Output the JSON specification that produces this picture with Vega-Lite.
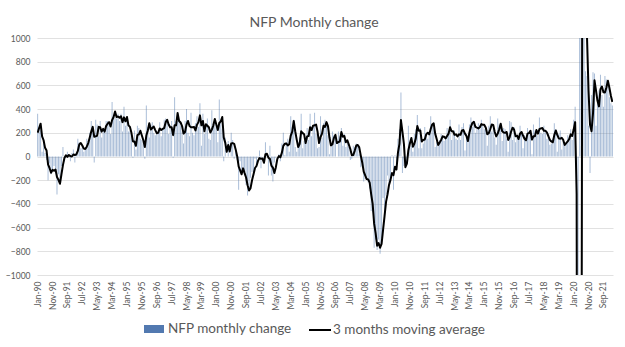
{
"$schema":"https://vega.github.io/schema/vega-lite/v6.json",
"width":576,"height":237,
"autosize":{"type":"none"},
"padding":{"left":37,"top":38,"right":12,"bottom":72},
"background":"white",
"title":{"text":"NFP Monthly change","font":"Lato","fontSize":14,"fontWeight":"normal","color":"#595959","offset":4,"dx":-11},
"config":{"view":{"stroke":null},"font":"Lato"},
"data":{"values":[
{"m":"Jan-90","v":360,"a":200},{"m":"Feb-90","v":250,"a":240},{"m":"Mar-90","v":220,"a":277},{"m":"Apr-90","v":40,"a":170},{"m":"May-90","v":150,"a":137},{"m":"Jun-90","v":30,"a":73},{"m":"Jul-90","v":-30,"a":50},{"m":"Aug-90","v":-200,"a":-67},{"m":"Sep-90","v":-60,"a":-97},{"m":"Oct-90","v":-150,"a":-137},{"m":"Nov-90","v":-130,"a":-113},{"m":"Dec-90","v":-80,"a":-120},
{"m":"Jan-91","v":-120,"a":-110},{"m":"Feb-91","v":-320,"a":-173},{"m":"Mar-91","v":-150,"a":-197},{"m":"Apr-91","v":-220,"a":-230},{"m":"May-91","v":-80,"a":-150},{"m":"Jun-91","v":80,"a":-73},{"m":"Jul-91","v":-40,"a":-13},{"m":"Aug-91","v":-10,"a":10},{"m":"Sep-91","v":40,"a":-3},{"m":"Oct-91","v":10,"a":13},{"m":"Nov-91","v":-40,"a":3},{"m":"Dec-91","v":30,"a":0},
{"m":"Jan-92","v":60,"a":17},{"m":"Feb-92","v":-50,"a":13},{"m":"Mar-92","v":40,"a":17},{"m":"Apr-92","v":150,"a":47},{"m":"May-92","v":120,"a":103},{"m":"Jun-92","v":70,"a":113},{"m":"Jul-92","v":90,"a":93},{"m":"Aug-92","v":40,"a":67},{"m":"Sep-92","v":60,"a":63},{"m":"Oct-92","v":150,"a":83},{"m":"Nov-92","v":130,"a":113},{"m":"Dec-92","v":200,"a":160},
{"m":"Jan-93","v":300,"a":210},{"m":"Feb-93","v":250,"a":250},{"m":"Mar-93","v":-50,"a":167},{"m":"Apr-93","v":310,"a":170},{"m":"May-93","v":270,"a":177},{"m":"Jun-93","v":170,"a":250},{"m":"Jul-93","v":300,"a":247},{"m":"Aug-93","v":160,"a":210},{"m":"Sep-93","v":240,"a":233},{"m":"Oct-93","v":230,"a":210},{"m":"Nov-93","v":300,"a":257},{"m":"Dec-93","v":300,"a":277},
{"m":"Jan-94","v":270,"a":290},{"m":"Feb-94","v":190,"a":253},{"m":"Mar-94","v":460,"a":307},{"m":"Apr-94","v":350,"a":333},{"m":"May-94","v":330,"a":380},{"m":"Jun-94","v":320,"a":333},{"m":"Jul-94","v":360,"a":337},{"m":"Aug-94","v":300,"a":327},{"m":"Sep-94","v":360,"a":340},{"m":"Oct-94","v":210,"a":290},{"m":"Nov-94","v":420,"a":330},{"m":"Dec-94","v":260,"a":297},
{"m":"Jan-95","v":320,"a":333},{"m":"Feb-95","v":210,"a":263},{"m":"Mar-95","v":220,"a":250},{"m":"Apr-95","v":170,"a":200},{"m":"May-95","v":-10,"a":127},{"m":"Jun-95","v":220,"a":127},{"m":"Jul-95","v":60,"a":90},{"m":"Aug-95","v":260,"a":180},{"m":"Sep-95","v":240,"a":187},{"m":"Oct-95","v":150,"a":217},{"m":"Nov-95","v":140,"a":177},{"m":"Dec-95","v":120,"a":137},
{"m":"Jan-96","v":-20,"a":80},{"m":"Feb-96","v":430,"a":177},{"m":"Mar-96","v":250,"a":220},{"m":"Apr-96","v":160,"a":280},{"m":"May-96","v":270,"a":227},{"m":"Jun-96","v":290,"a":240},{"m":"Jul-96","v":200,"a":253},{"m":"Aug-96","v":180,"a":223},{"m":"Sep-96","v":210,"a":197},{"m":"Oct-96","v":210,"a":200},{"m":"Nov-96","v":290,"a":237},{"m":"Dec-96","v":170,"a":223},
{"m":"Jan-97","v":240,"a":233},{"m":"Feb-97","v":310,"a":240},{"m":"Mar-97","v":320,"a":290},{"m":"Apr-97","v":300,"a":310},{"m":"May-97","v":190,"a":270},{"m":"Jun-97","v":250,"a":247},{"m":"Jul-97","v":300,"a":247},{"m":"Aug-97","v":-10,"a":180},{"m":"Sep-97","v":500,"a":263},{"m":"Oct-97","v":300,"a":263},{"m":"Nov-97","v":300,"a":367},{"m":"Dec-97","v":300,"a":300},
{"m":"Jan-98","v":260,"a":287},{"m":"Feb-98","v":210,"a":257},{"m":"Mar-98","v":110,"a":193},{"m":"Apr-98","v":300,"a":207},{"m":"May-98","v":400,"a":270},{"m":"Jun-98","v":200,"a":300},{"m":"Jul-98","v":170,"a":257},{"m":"Aug-98","v":370,"a":247},{"m":"Sep-98","v":200,"a":247},{"m":"Oct-98","v":180,"a":250},{"m":"Nov-98","v":280,"a":220},{"m":"Dec-98","v":340,"a":267},
{"m":"Jan-99","v":250,"a":290},{"m":"Feb-99","v":450,"a":347},{"m":"Mar-99","v":90,"a":263},{"m":"Apr-99","v":360,"a":300},{"m":"May-99","v":190,"a":213},{"m":"Jun-99","v":270,"a":273},{"m":"Jul-99","v":320,"a":260},{"m":"Aug-99","v":150,"a":247},{"m":"Sep-99","v":140,"a":203},{"m":"Oct-99","v":390,"a":227},{"m":"Nov-99","v":260,"a":263},{"m":"Dec-99","v":300,"a":317},
{"m":"Jan-00","v":250,"a":270},{"m":"Feb-00","v":120,"a":223},{"m":"Mar-00","v":480,"a":283},{"m":"Apr-00","v":290,"a":297},{"m":"May-00","v":230,"a":333},{"m":"Jun-00","v":-40,"a":160},{"m":"Jul-00","v":160,"a":117},{"m":"Aug-00","v":0,"a":40},{"m":"Sep-00","v":130,"a":97},{"m":"Oct-00","v":0,"a":43},{"m":"Nov-00","v":200,"a":110},{"m":"Dec-00","v":140,"a":113},
{"m":"Jan-01","v":-20,"a":107},{"m":"Feb-01","v":60,"a":60},{"m":"Mar-01","v":-30,"a":3},{"m":"Apr-01","v":-280,"a":-83},{"m":"May-01","v":-40,"a":-117},{"m":"Jun-01","v":-130,"a":-150},{"m":"Jul-01","v":-130,"a":-100},{"m":"Aug-01","v":-160,"a":-140},{"m":"Sep-01","v":-240,"a":-177},{"m":"Oct-01","v":-330,"a":-243},{"m":"Nov-01","v":-290,"a":-287},{"m":"Dec-01","v":-180,"a":-267},
{"m":"Jan-02","v":-130,"a":-200},{"m":"Feb-02","v":-140,"a":-150},{"m":"Mar-02","v":-20,"a":-97},{"m":"Apr-02","v":-80,"a":-80},{"m":"May-02","v":-10,"a":-37},{"m":"Jun-02","v":50,"a":-13},{"m":"Jul-02","v":-100,"a":-20},{"m":"Aug-02","v":0,"a":-17},{"m":"Sep-02","v":-60,"a":-53},{"m":"Oct-02","v":120,"a":20},{"m":"Nov-02","v":10,"a":23},{"m":"Dec-02","v":-160,"a":-10},
{"m":"Jan-03","v":90,"a":-20},{"m":"Feb-03","v":-160,"a":-77},{"m":"Mar-03","v":-210,"a":-93},{"m":"Apr-03","v":-50,"a":-140},{"m":"May-03","v":-10,"a":-90},{"m":"Jun-03","v":0,"a":-20},{"m":"Jul-03","v":20,"a":3},{"m":"Aug-03","v":-40,"a":-7},{"m":"Sep-03","v":110,"a":30},{"m":"Oct-03","v":200,"a":90},{"m":"Nov-03","v":10,"a":107},{"m":"Dec-03","v":120,"a":110},
{"m":"Jan-04","v":150,"a":93},{"m":"Feb-04","v":40,"a":103},{"m":"Mar-04","v":340,"a":177},{"m":"Apr-04","v":250,"a":210},{"m":"May-04","v":310,"a":300},{"m":"Jun-04","v":80,"a":213},{"m":"Jul-04","v":40,"a":143},{"m":"Aug-04","v":120,"a":80},{"m":"Sep-04","v":160,"a":107},{"m":"Oct-04","v":360,"a":213},{"m":"Nov-04","v":70,"a":197},{"m":"Dec-04","v":130,"a":187},
{"m":"Jan-05","v":140,"a":113},{"m":"Feb-05","v":240,"a":170},{"m":"Mar-05","v":140,"a":173},{"m":"Apr-05","v":360,"a":247},{"m":"May-05","v":170,"a":223},{"m":"Jun-05","v":250,"a":260},{"m":"Jul-05","v":370,"a":263},{"m":"Aug-05","v":190,"a":270},{"m":"Sep-05","v":70,"a":210},{"m":"Oct-05","v":80,"a":113},{"m":"Nov-05","v":340,"a":163},{"m":"Dec-05","v":160,"a":193},
{"m":"Jan-06","v":280,"a":260},{"m":"Feb-06","v":310,"a":250},{"m":"Mar-06","v":280,"a":290},{"m":"Apr-06","v":180,"a":257},{"m":"May-06","v":20,"a":160},{"m":"Jun-06","v":80,"a":93},{"m":"Jul-06","v":210,"a":103},{"m":"Aug-06","v":180,"a":157},{"m":"Sep-06","v":160,"a":183},{"m":"Oct-06","v":0,"a":113},{"m":"Nov-06","v":210,"a":123},{"m":"Dec-06","v":170,"a":127},
{"m":"Jan-07","v":240,"a":207},{"m":"Feb-07","v":90,"a":167},{"m":"Mar-07","v":190,"a":173},{"m":"Apr-07","v":80,"a":120},{"m":"May-07","v":140,"a":137},{"m":"Jun-07","v":80,"a":100},{"m":"Jul-07","v":-30,"a":63},{"m":"Aug-07","v":-20,"a":10},{"m":"Sep-07","v":90,"a":13},{"m":"Oct-07","v":80,"a":50},{"m":"Nov-07","v":110,"a":93},{"m":"Dec-07","v":100,"a":97},
{"m":"Jan-08","v":20,"a":77},{"m":"Feb-08","v":-90,"a":10},{"m":"Mar-08","v":-80,"a":-50},{"m":"Apr-08","v":-210,"a":-127},{"m":"May-08","v":-190,"a":-160},{"m":"Jun-08","v":-170,"a":-190},{"m":"Jul-08","v":-220,"a":-193},{"m":"Aug-08","v":-270,"a":-220},{"m":"Sep-08","v":-460,"a":-317},{"m":"Oct-08","v":-470,"a":-400},{"m":"Nov-08","v":-770,"a":-567},{"m":"Dec-08","v":-700,"a":-647},
{"m":"Jan-09","v":-790,"a":-753},{"m":"Feb-09","v":-700,"a":-730},{"m":"Mar-09","v":-820,"a":-770},{"m":"Apr-09","v":-690,"a":-737},{"m":"May-09","v":-350,"a":-620},{"m":"Jun-09","v":-470,"a":-503},{"m":"Jul-09","v":-330,"a":-383},{"m":"Aug-09","v":-160,"a":-320},{"m":"Sep-09","v":-230,"a":-240},{"m":"Oct-09","v":-200,"a":-197},{"m":"Nov-09","v":10,"a":-140},{"m":"Dec-09","v":-280,"a":-157},
{"m":"Jan-10","v":10,"a":-87},{"m":"Feb-10","v":-60,"a":-110},{"m":"Mar-10","v":150,"a":33},{"m":"Apr-10","v":230,"a":107},{"m":"May-10","v":540,"a":307},{"m":"Jun-10","v":-140,"a":210},{"m":"Jul-10","v":-80,"a":107},{"m":"Aug-10","v":-50,"a":-90},{"m":"Sep-10","v":-50,"a":-60},{"m":"Oct-10","v":260,"a":53},{"m":"Nov-10","v":120,"a":110},{"m":"Dec-10","v":90,"a":157},
{"m":"Jan-11","v":40,"a":83},{"m":"Feb-11","v":190,"a":107},{"m":"Mar-11","v":230,"a":153},{"m":"Apr-11","v":350,"a":257},{"m":"May-11","v":70,"a":217},{"m":"Jun-11","v":240,"a":220},{"m":"Jul-11","v":70,"a":127},{"m":"Aug-11","v":110,"a":140},{"m":"Sep-11","v":250,"a":143},{"m":"Oct-11","v":200,"a":187},{"m":"Nov-11","v":150,"a":200},{"m":"Dec-11","v":210,"a":187},
{"m":"Jan-12","v":340,"a":233},{"m":"Feb-12","v":260,"a":270},{"m":"Mar-12","v":240,"a":280},{"m":"Apr-12","v":80,"a":193},{"m":"May-12","v":120,"a":147},{"m":"Jun-12","v":90,"a":97},{"m":"Jul-12","v":140,"a":117},{"m":"Aug-12","v":190,"a":140},{"m":"Sep-12","v":180,"a":170},{"m":"Oct-12","v":130,"a":167},{"m":"Nov-12","v":150,"a":153},{"m":"Dec-12","v":240,"a":173},
{"m":"Jan-13","v":190,"a":193},{"m":"Feb-13","v":310,"a":247},{"m":"Mar-13","v":140,"a":213},{"m":"Apr-13","v":190,"a":213},{"m":"May-13","v":220,"a":183},{"m":"Jun-13","v":150,"a":187},{"m":"Jul-13","v":140,"a":170},{"m":"Aug-13","v":270,"a":187},{"m":"Sep-13","v":140,"a":183},{"m":"Oct-13","v":250,"a":220},{"m":"Nov-13","v":280,"a":223},{"m":"Dec-13","v":50,"a":193},
{"m":"Jan-14","v":190,"a":173},{"m":"Feb-14","v":150,"a":130},{"m":"Mar-14","v":270,"a":203},{"m":"Apr-14","v":330,"a":250},{"m":"May-14","v":250,"a":283},{"m":"Jun-14","v":300,"a":293},{"m":"Jul-14","v":200,"a":250},{"m":"Aug-14","v":230,"a":243},{"m":"Sep-14","v":280,"a":237},{"m":"Oct-14","v":230,"a":247},{"m":"Nov-14","v":310,"a":273},{"m":"Dec-14","v":260,"a":267},
{"m":"Jan-15","v":230,"a":267},{"m":"Feb-15","v":240,"a":243},{"m":"Mar-15","v":90,"a":187},{"m":"Apr-15","v":260,"a":197},{"m":"May-15","v":340,"a":230},{"m":"Jun-15","v":210,"a":270},{"m":"Jul-15","v":250,"a":267},{"m":"Aug-15","v":160,"a":207},{"m":"Sep-15","v":100,"a":170},{"m":"Oct-15","v":320,"a":193},{"m":"Nov-15","v":270,"a":230},{"m":"Dec-15","v":240,"a":277},
{"m":"Jan-16","v":130,"a":213},{"m":"Feb-16","v":240,"a":203},{"m":"Mar-16","v":230,"a":200},{"m":"Apr-16","v":150,"a":207},{"m":"May-16","v":40,"a":140},{"m":"Jun-16","v":300,"a":163},{"m":"Jul-16","v":290,"a":210},{"m":"Aug-16","v":140,"a":243},{"m":"Sep-16","v":250,"a":227},{"m":"Oct-16","v":120,"a":170},{"m":"Nov-16","v":160,"a":177},{"m":"Dec-16","v":160,"a":147},
{"m":"Jan-17","v":260,"a":193},{"m":"Feb-17","v":200,"a":207},{"m":"Mar-17","v":70,"a":177},{"m":"Apr-17","v":180,"a":150},{"m":"May-17","v":160,"a":137},{"m":"Jun-17","v":240,"a":193},{"m":"Jul-17","v":190,"a":197},{"m":"Aug-17","v":220,"a":217},{"m":"Sep-17","v":20,"a":143},{"m":"Oct-17","v":270,"a":170},{"m":"Nov-17","v":220,"a":170},{"m":"Dec-17","v":180,"a":223},
{"m":"Jan-18","v":180,"a":193},{"m":"Feb-18","v":330,"a":230},{"m":"Mar-18","v":200,"a":237},{"m":"Apr-18","v":190,"a":240},{"m":"May-18","v":260,"a":217},{"m":"Jun-18","v":200,"a":217},{"m":"Jul-18","v":150,"a":203},{"m":"Aug-18","v":170,"a":173},{"m":"Sep-18","v":100,"a":140},{"m":"Oct-18","v":110,"a":127},{"m":"Nov-18","v":150,"a":120},{"m":"Dec-18","v":280,"a":180},
{"m":"Jan-19","v":230,"a":220},{"m":"Feb-19","v":40,"a":183},{"m":"Mar-19","v":190,"a":153},{"m":"Apr-19","v":220,"a":150},{"m":"May-19","v":60,"a":157},{"m":"Jun-19","v":140,"a":140},{"m":"Jul-19","v":90,"a":97},{"m":"Aug-19","v":110,"a":113},{"m":"Sep-19","v":180,"a":127},{"m":"Oct-19","v":150,"a":147},{"m":"Nov-19","v":230,"a":187},{"m":"Dec-19","v":140,"a":173},
{"m":"Jan-20","v":310,"a":227},{"m":"Feb-20","v":420,"a":290},{"m":"Mar-20","v":-1680,"a":-317},{"m":"Apr-20","v":-20500,"a":-7253},{"m":"May-20","v":2830,"a":-6450},{"m":"Jun-20","v":4850,"a":-4273},{"m":"Jul-20","v":1730,"a":3137},{"m":"Aug-20","v":1580,"a":2720},{"m":"Sep-20","v":720,"a":1343},{"m":"Oct-20","v":680,"a":993},{"m":"Nov-20","v":260,"a":553},{"m":"Dec-20","v":-140,"a":267},
{"m":"Jan-21","v":520,"a":213},{"m":"Feb-21","v":710,"a":363},{"m":"Mar-21","v":700,"a":643},{"m":"Apr-21","v":260,"a":557},{"m":"May-21","v":450,"a":470},{"m":"Jun-21","v":560,"a":423},{"m":"Jul-21","v":690,"a":567},{"m":"Aug-21","v":520,"a":590},{"m":"Sep-21","v":420,"a":543},{"m":"Oct-21","v":680,"a":540},{"m":"Nov-21","v":650,"a":583},{"m":"Dec-21","v":590,"a":640},
{"m":"Jan-22","v":500,"a":580},{"m":"Feb-22","v":450,"a":513},{"m":"Mar-22","v":430,"a":460}
]},
"encoding":{
"x":{"field":"m","type":"ordinal","sort":null,"scale":{"paddingInner":0.35,"paddingOuter":0.1},
"axis":{"title":null,"values":["Jan-90","Nov-90","Sep-91","Jul-92","May-93","Mar-94","Jan-95","Nov-95","Sep-96","Jul-97","May-98","Mar-99","Jan-00","Nov-00","Sep-01","Jul-02","May-03","Mar-04","Jan-05","Nov-05","Sep-06","Jul-07","May-08","Mar-09","Jan-10","Nov-10","Sep-11","Jul-12","May-13","Mar-14","Jan-15","Nov-15","Sep-16","Jul-17","May-18","Mar-19","Jan-20","Nov-20","Sep-21"],
"labelAngle":-90,"labelOverlap":false,"domain":false,"ticks":false,"grid":false,"labelFont":"Lato","labelFontSize":8.5,"labelColor":"#595959","labelPadding":6}}
},
"layer":[
{"mark":{"type":"bar","clip":true,"opacity":0.5},
"encoding":{
"y":{"field":"v","type":"quantitative","scale":{"domain":[-1000,1000],"nice":false},
"axis":{"title":null,"values":[-1000,-800,-600,-400,-200,0,200,400,600,800,1000],"format":"d","labelOverlap":false,"domain":false,"ticks":false,"labelFont":"Lato","labelFontSize":8.5,"labelColor":"#595959","labelPadding":7,"gridColor":"#d9d9d9","gridWidth":0.8}},
"fill":{"datum":"NFP monthly change","type":"nominal","scale":{"range":["#5279b0"]},
"legend":{"title":null,"orient":"none","legendX":106,"legendY":280,"padding":0,"symbolOpacity":1,"symbolType":"M-1,-0.4H1V0.4H-1Z","symbolSize":400,"labelOffset":3,"labelFont":"Lato","labelFontSize":13.5,"labelColor":"#595959"}}
}},
{"mark":{"type":"line","clip":true,"strokeWidth":2,"strokeJoin":"round"},
"encoding":{
"y":{"field":"a","type":"quantitative","scale":{"domain":[-1000,1000],"nice":false},
"axis":{"title":null,"values":[-1000,-800,-600,-400,-200,0,200,400,600,800,1000],"format":"d","labelOverlap":false,"domain":false,"ticks":false,"labelFont":"Lato","labelFontSize":8.5,"labelColor":"#595959","labelPadding":7,"gridColor":"#d9d9d9","gridWidth":0.8}},
"stroke":{"datum":"3 months moving average","type":"nominal","scale":{"range":["#000000"]},
"legend":{"title":null,"orient":"none","legendX":271,"legendY":280,"padding":0,"symbolType":"stroke","symbolSize":484,"symbolStrokeWidth":2,"labelOffset":1,"labelFont":"Lato","labelFontSize":13.5,"labelColor":"#595959"}}
}}
]
}
